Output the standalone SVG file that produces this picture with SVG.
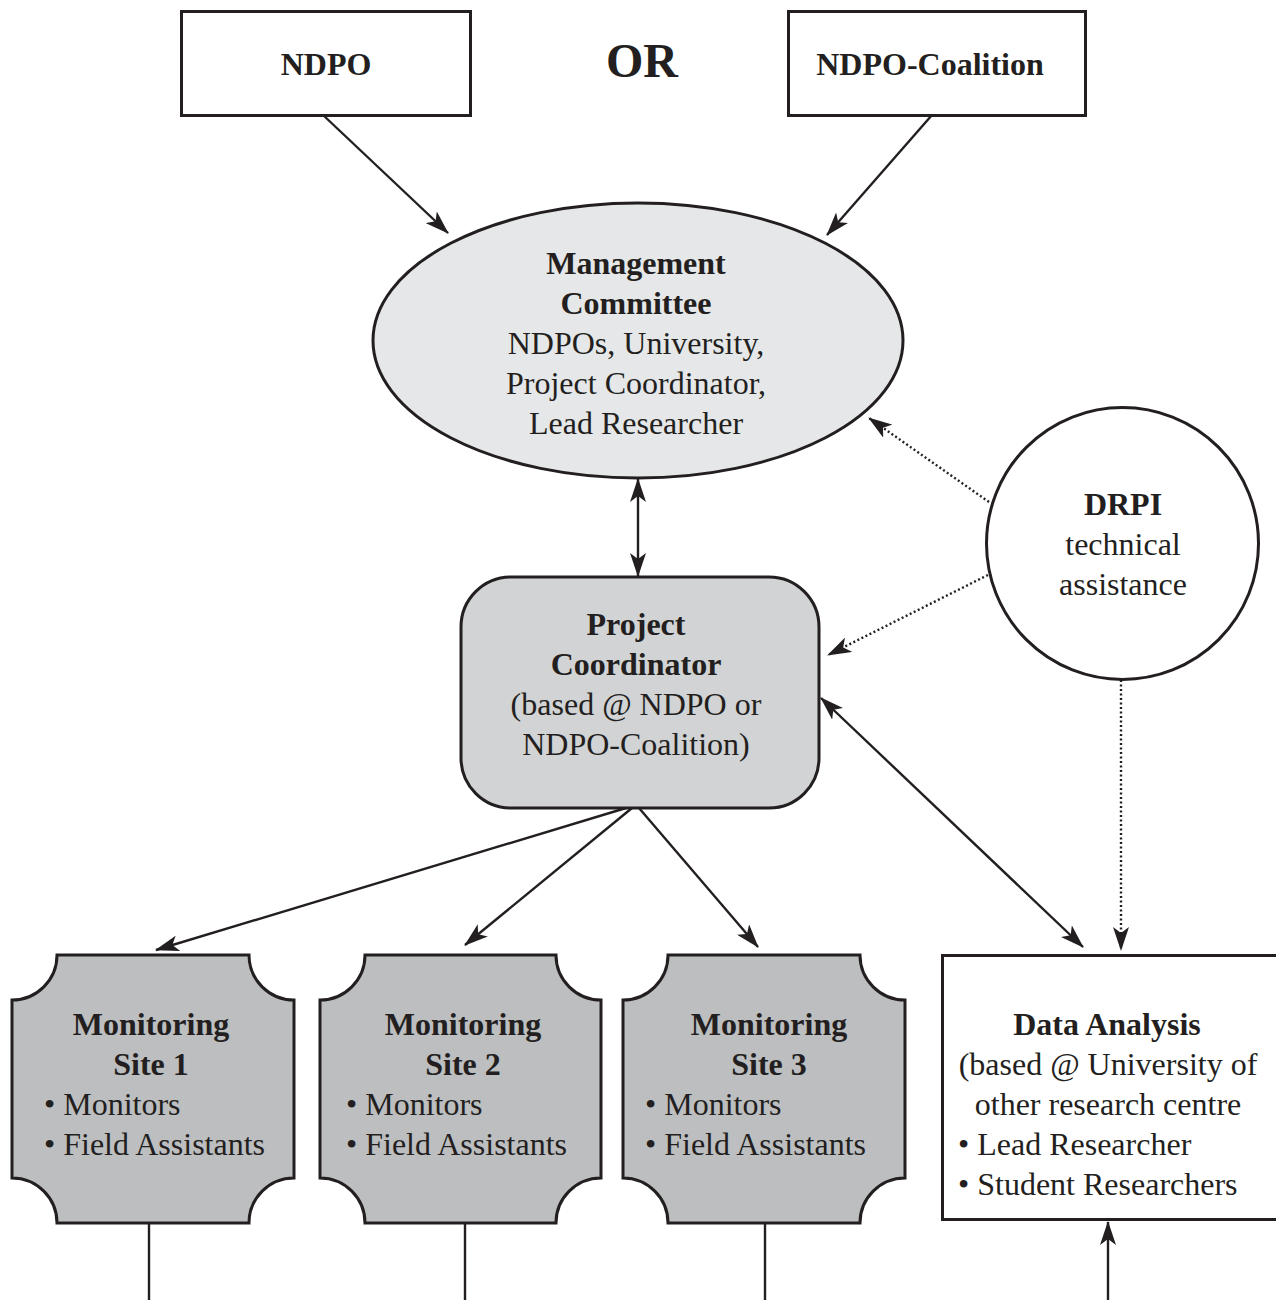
<svg xmlns="http://www.w3.org/2000/svg" width="1276" height="1300" viewBox="0 0 1276 1300">
<style>
text{font-family:"Liberation Serif","Times New Roman",serif;font-size:32px;fill:#231f20}
.b{font-weight:bold}
.c{text-anchor:middle}
.box{stroke:#231f20;stroke-width:3}
.ln{stroke:#231f20;stroke-width:2.4;fill:none}
.dot{stroke:#231f20;stroke-width:2.4;fill:none;stroke-dasharray:2 2.5}
</style>
<defs>
<marker id="ah" viewBox="0 0 24 16" refX="23" refY="8" markerWidth="24" markerHeight="16" markerUnits="userSpaceOnUse" orient="auto-start-reverse">
<path d="M0,0 L24,8 L0,16 L6,8 z" fill="#231f20"/>
</marker>
</defs>
<rect width="1276" height="1300" fill="#fff"/>

<g id="connectors">
<line class="ln" x1="323" y1="115" x2="448" y2="233" marker-end="url(#ah)"/>
<line class="ln" x1="932" y1="115" x2="827" y2="235" marker-end="url(#ah)"/>
<line class="ln" x1="638" y1="479" x2="638" y2="576" marker-start="url(#ah)" marker-end="url(#ah)"/>
<line class="dot" x1="989" y1="502" x2="869" y2="418" marker-end="url(#ah)"/>
<line class="dot" x1="988" y1="575" x2="828" y2="655" marker-end="url(#ah)"/>
<line class="dot" x1="1121" y1="680" x2="1121" y2="950" marker-end="url(#ah)"/>
<line class="ln" x1="821" y1="698" x2="1083" y2="947" marker-start="url(#ah)" marker-end="url(#ah)"/>
<line class="ln" x1="626" y1="808" x2="156" y2="950" marker-end="url(#ah)"/>
<line class="ln" x1="632" y1="808" x2="465" y2="945" marker-end="url(#ah)"/>
<line class="ln" x1="639" y1="808" x2="758" y2="947" marker-end="url(#ah)"/>
<line class="ln" x1="149" y1="1223" x2="149" y2="1300"/>
<line class="ln" x1="465" y1="1223" x2="465" y2="1300"/>
<line class="ln" x1="765" y1="1223" x2="765" y2="1300"/>
<line class="ln" x1="1108" y1="1300" x2="1108" y2="1222" marker-end="url(#ah)"/>
</g>

<g id="ndpo">
<rect class="box" x="181.5" y="11.5" width="289" height="104" fill="#fff"/>
<text class="b c" x="326" y="75">NDPO</text>
</g>

<g id="or">
<text class="b c" x="642" y="77" style="font-size:48px">OR</text>
</g>

<g id="ndpo-coalition">
<rect class="box" x="788.5" y="11.5" width="297" height="104" fill="#fff"/>
<text class="b c" x="930" y="75">NDPO-Coalition</text>
</g>

<g id="management-committee">
<ellipse class="box" cx="638" cy="340.5" rx="265" ry="137.5" fill="#e6e7e8"/>
<text class="b c" x="636" y="274">Management</text>
<text class="b c" x="636" y="314">Committee</text>
<text class="c" x="636" y="354">NDPOs, University,</text>
<text class="c" x="636" y="394">Project Coordinator,</text>
<text class="c" x="636" y="434">Lead Researcher</text>
</g>

<g id="drpi">
<circle class="box" cx="1122.5" cy="543.5" r="136" fill="#fff"/>
<text class="b c" x="1123" y="515">DRPI</text>
<text class="c" x="1123" y="555">technical</text>
<text class="c" x="1123" y="595">assistance</text>
</g>

<g id="project-coordinator">
<rect class="box" x="461" y="577" width="358" height="231" rx="50" ry="50" fill="#d1d3d4"/>
<text class="b c" x="636" y="635">Project</text>
<text class="b c" x="636" y="675">Coordinator</text>
<text class="c" x="636" y="715">(based @ NDPO or</text>
<text class="c" x="636" y="755">NDPO-Coalition)</text>
</g>

<g id="site1">
<path class="box" fill="#bcbec0" d="M57,955 H249 A45,45 0 0 0 294,1000 V1178 A45,45 0 0 0 249,1223 H57 A45,45 0 0 0 12,1178 V1000 A45,45 0 0 0 57,955 Z"/>
<text class="b c" x="151" y="1035">Monitoring</text>
<text class="b c" x="151" y="1075">Site 1</text>
<text x="44" y="1115">• Monitors</text>
<text x="44" y="1155">• Field Assistants</text>
</g>

<g id="site2">
<path class="box" fill="#bcbec0" d="M365,955 H556 A45,45 0 0 0 601,1000 V1178 A45,45 0 0 0 556,1223 H365 A45,45 0 0 0 320,1178 V1000 A45,45 0 0 0 365,955 Z"/>
<text class="b c" x="463" y="1035">Monitoring</text>
<text class="b c" x="463" y="1075">Site 2</text>
<text x="346" y="1115">• Monitors</text>
<text x="346" y="1155">• Field Assistants</text>
</g>

<g id="site3">
<path class="box" fill="#bcbec0" d="M668,955 H860 A45,45 0 0 0 905,1000 V1178 A45,45 0 0 0 860,1223 H668 A45,45 0 0 0 623,1178 V1000 A45,45 0 0 0 668,955 Z"/>
<text class="b c" x="769" y="1035">Monitoring</text>
<text class="b c" x="769" y="1075">Site 3</text>
<text x="645" y="1115">• Monitors</text>
<text x="645" y="1155">• Field Assistants</text>
</g>

<g id="data-analysis">
<rect class="box" x="942.5" y="955.5" width="350" height="264" fill="#fff"/>
<text class="b c" x="1107" y="1035">Data Analysis</text>
<text class="c" x="1108" y="1075">(based @ University of</text>
<text class="c" x="1108" y="1115">other research centre</text>
<text x="958" y="1155">• Lead Researcher</text>
<text x="958" y="1195">• Student Researchers</text>
</g>
</svg>
